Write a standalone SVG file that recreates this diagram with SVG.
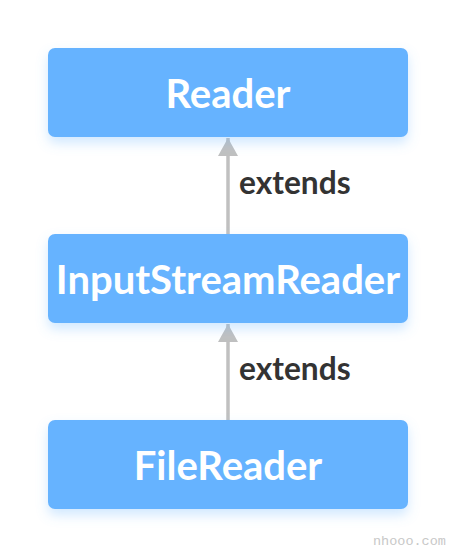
<svg xmlns="http://www.w3.org/2000/svg" width="456" height="558" viewBox="0 0 456 558">
<style>
.box{fill:#66b3ff;filter:url(#sh)}
.lbl{font-family:Lato,"Liberation Sans",sans-serif;font-weight:bold;font-size:40px;fill:#fff;text-anchor:middle}
.ext{font-family:Lato,"Liberation Sans",sans-serif;font-weight:bold;font-size:31.7px;fill:#333}
.conn{stroke:#c0c0c0;stroke-width:3.5;fill:none;marker-end:url(#ah)}
.wm{font-family:"Liberation Mono",monospace;font-size:13.5px;fill:#c8c8c8}
</style>
<defs>
<filter id="sh" x="-20%" y="-30%" width="140%" height="180%">
<feDropShadow dx="0" dy="6" stdDeviation="6" flood-color="#66b3ff" flood-opacity="0.3"/>
</filter>
<marker id="ah" markerUnits="userSpaceOnUse" markerWidth="22" markerHeight="20" refX="18" refY="10" orient="auto">
<path d="M0,0 L18,10 L0,20 Z" fill="#c0c0c0"/>
</marker>
</defs>
<rect width="456" height="558" fill="#fff"/>
<g id="connectors">
<line class="conn" x1="228" y1="234" x2="228" y2="138"/>
<line class="conn" x1="228" y1="420" x2="228" y2="324"/>
<text class="ext" x="239" y="194">extends</text>
<text class="ext" x="239" y="380">extends</text>
</g>
<g id="reader">
<rect class="box" x="48" y="48" width="360" height="89" rx="7"/>
<text class="lbl" x="228" y="108">Reader</text>
</g>
<g id="inputstreamreader">
<rect class="box" x="48" y="234" width="360" height="89" rx="7"/>
<text class="lbl" x="228" y="294">InputStreamReader</text>
</g>
<g id="filereader">
<rect class="box" x="48" y="420" width="360" height="89" rx="7"/>
<text class="lbl" x="228" y="480">FileReader</text>
</g>
<text class="wm" x="373" y="545">nhooo.com</text>
</svg>
